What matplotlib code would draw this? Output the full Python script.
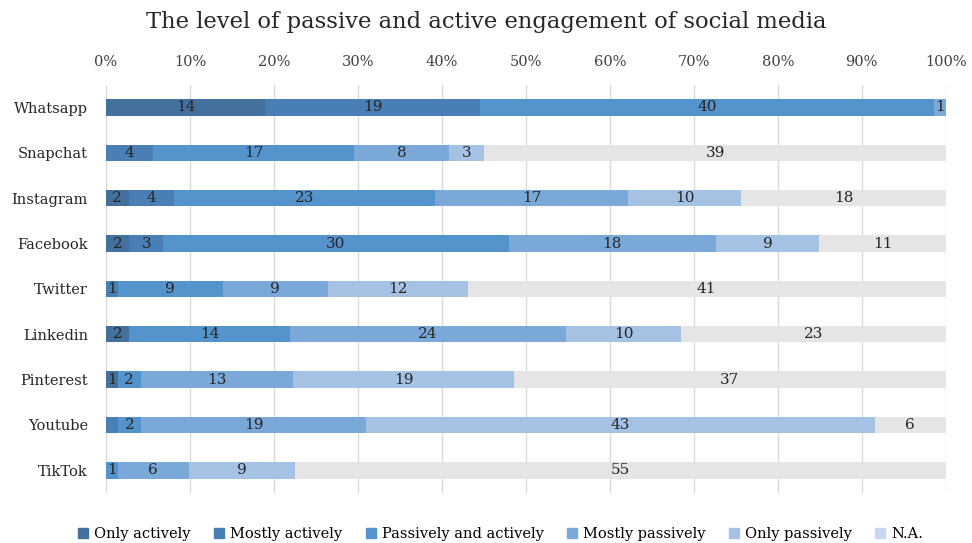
import numpy as np
import matplotlib.pyplot as plt
from matplotlib.patches import Patch

plt.rcParams['font.family'] = ['DejaVu Serif']

platforms = ['Whatsapp', 'Snapchat', 'Instagram', 'Facebook', 'Twitter',
             'Linkedin', 'Pinterest', 'Youtube', 'TikTok']
series = ['Only actively', 'Mostly actively', 'Passively and actively',
          'Mostly passively', 'Only passively', 'N.A.']

only_actively = [14, 0, 2, 2, 0, 2, 1, 0, 0]
mostly_actively = [19, 4, 4, 3, 1, 0, 0, 1, 0]
passively_and_actively = [40, 17, 23, 30, 9, 14, 2, 2, 1]
mostly_passively = [1, 8, 17, 18, 9, 24, 13, 19, 6]
only_passively = [0, 3, 10, 9, 12, 10, 19, 43, 9]
not_answered = [0, 39, 18, 11, 41, 23, 37, 6, 55]

# youtube's tiny first segment has no label in the original
hide_labels = {(7, 1)}

bar_colors = ['#44709d', '#4a7fb6', '#5593cc', '#79a8d9', '#a5c2e5', '#e5e5e5']
legend_colors = ['#44709d', '#4a7fb6', '#5593cc', '#79a8d9', '#a5c2e5', '#c6d8ef']

data = np.array([only_actively, mostly_actively, passively_and_actively,
                 mostly_passively, only_passively, not_answered], dtype=float)
totals = data.sum(axis=0)
pct = data / totals * 100

fig = plt.figure(figsize=(9.72, 5.43), dpi=100)
ax = fig.add_axes([0.109, 0.092, 0.864, 0.752])

y = np.arange(len(platforms))
left = np.zeros(len(platforms))
for i, name in enumerate(series):
    ax.barh(y, pct[i], left=left, height=0.36, color=bar_colors[i], zorder=2)
    for j in range(len(platforms)):
        v = data[i, j]
        if v > 0 and (j, i) not in hide_labels:
            ax.text(left[j] + pct[i, j] / 2, y[j], '%d' % v, ha='center',
                    va='center', fontsize=11, color='#262626', zorder=3)
    left += pct[i]

ax.set_xlim(0, 100)
ax.set_ylim(len(platforms) - 0.5, -0.5)
ax.set_yticks(y)
ax.set_yticklabels(platforms, fontsize=10.5, color='#262626')
ax.set_xticks(np.arange(0, 101, 10))
ax.set_xticklabels(['%d%%' % t for t in range(0, 101, 10)], fontsize=10.5, color='#404040')
ax.xaxis.tick_top()
ax.tick_params(axis='x', length=0, pad=11)
ax.tick_params(axis='y', length=0, pad=13)
ax.grid(axis='x', color='#d9d9d9', linewidth=1, zorder=0)
for s in ax.spines.values():
    s.set_visible(False)

fig.suptitle('The level of passive and active engagement of social media',
             fontsize=16.3, color='#262626', y=0.98)

handles = [Patch(color=c, label=n) for c, n in zip(legend_colors, series)]
fig.legend(handles=handles, loc='lower center', ncol=6, frameon=False,
           fontsize=10.5, bbox_to_anchor=(0.515, -0.02), handlelength=0.7,
           handleheight=0.7, handletextpad=0.4, columnspacing=1.6)

plt.savefig('out.png', dpi=100)
